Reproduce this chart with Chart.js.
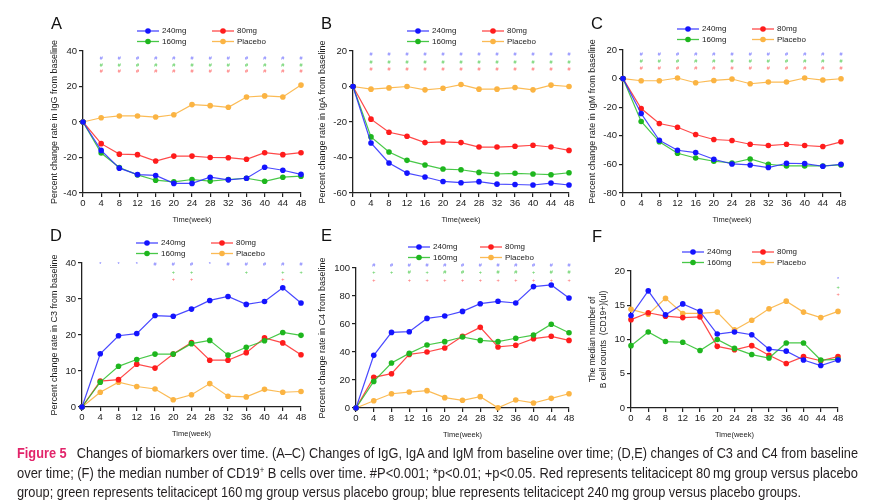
<!DOCTYPE html>
<html><head><meta charset="utf-8">
<script src="https://cdn.jsdelivr.net/npm/chart.js@4.4.1/dist/chart.umd.min.js"></script>
<style>
html,body{margin:0;padding:0;background:#fff;width:873px;height:501px;overflow:hidden;}
canvas.panel{position:absolute;left:0;top:0;}
.lbl{position:absolute;font-family:'Liberation Sans',Arial,sans-serif;font-size:16.5px;color:#111;line-height:1;}
.cap{position:absolute;left:17px;font-family:'Liberation Sans Narrow','Arial Narrow','Liberation Sans',sans-serif;font-size:15px;line-height:19px;color:#231f20;white-space:nowrap;transform-origin:0 0;}
.cap .fig{color:#e2246a;font-weight:bold;}
.cap sup{font-size:9px;vertical-align:5px;line-height:0;}
</style></head><body>
<canvas class="panel" id="cA" width="873" height="501"></canvas>
<canvas class="panel" id="cB" width="873" height="501"></canvas>
<canvas class="panel" id="cC" width="873" height="501"></canvas>
<canvas class="panel" id="cD" width="873" height="501"></canvas>
<canvas class="panel" id="cE" width="873" height="501"></canvas>
<canvas class="panel" id="cF" width="873" height="501"></canvas>
<div class="lbl" style="left:51px;top:15px">A</div>
<div class="lbl" style="left:321px;top:15px">B</div>
<div class="lbl" style="left:591px;top:15px">C</div>
<div class="lbl" style="left:50px;top:227px">D</div>
<div class="lbl" style="left:321px;top:227px">E</div>
<div class="lbl" style="left:592px;top:228px">F</div>
<div class="cap" id="cap1" style="top:443px"><span class="fig">Figure 5</span>&ensp; Changes of biomarkers over time. (A–C) Changes of IgG, IgA and IgM from baseline over time; (D,E) changes of C3 and C4 from baseline</div>
<div class="cap" id="cap2" style="top:462.5px">over time; (F) the median number of CD19<sup>+</sup> B cells over time. #P&lt;0.001; *p&lt;0.01; +p&lt;0.05. Red represents telitacicept 80&#8201;mg group versus placebo</div>
<div class="cap" id="cap3" style="top:482px">group; green represents telitacicept 160&#8201;mg group versus placebo group; blue represents telitacicept 240&#8201;mg group versus placebo groups.</div>
<script>
// ---- data ----
const weeks = [0,4,8,12,16,20,24,28,32,36,40,44,48];
const seriesNames = ['240mg','160mg','80mg','Placebo'];

// A: IgG
const igg240 = [0,-16,-26,-29.6,-30.1,-34.6,-34.6,-31.1,-32.6,-31.7,-25.5,-27.2,-29.5];
const igg160 = [0,-17.5,-25.6,-29.8,-32.8,-33.7,-32.4,-33.3,-32.4,-31.7,-33.4,-31.1,-30.5];
const igg80  = [0,-12.2,-18.1,-18.4,-22.0,-19.2,-19.2,-20,-20.1,-21.0,-17.3,-18.4,-17.3];
const iggPbo = [0,2.4,3.4,3.4,2.8,4.1,9.8,9.2,8.3,14.1,14.7,14.1,20.8];
// B: IgA
const iga240 = [0,-31.8,-43.1,-48.8,-51,-53.5,-54.2,-53.6,-55,-55.2,-55.5,-54.4,-55.5];
const iga160 = [0,-28.4,-36.9,-41.6,-44.2,-46.5,-46.9,-48.4,-49.3,-48.9,-49.3,-49.7,-48.6];
const iga80  = [0,-18.4,-25.8,-28,-31.6,-31.2,-31.6,-34.1,-34.1,-33.7,-33.1,-34.1,-36];
const igaPbo = [0,-1.5,-0.8,0,-1.9,-1,1.1,-1.5,-1.5,-0.6,-1.9,0.8,0];
// C: IgM
const igm240 = [0,-24.4,-43.1,-50.1,-51.7,-56.4,-59.7,-60.4,-62.2,-59.2,-59.4,-61.3,-59.9];
const igm160 = [0,-30,-44.2,-52.2,-55.5,-57.8,-59,-56.2,-59.9,-61.1,-61.1,-61.1,-60.4];
const igm80  = [0,-20.9,-31.4,-34,-39.1,-42.6,-43.3,-45.9,-46.8,-45.9,-46.8,-47.5,-44.2];
const igmPbo = [0,-1.5,-1.5,0.4,-2.9,-1.3,-0.3,-3.6,-2.4,-2.4,0.4,-1,-0.1];
// D: C3
const c3_240 = [0,14.8,19.8,20.4,25.4,25.2,27.2,29.6,30.7,28.5,29.3,33.1,28.9];
const c3_160 = [0,6.9,11.3,13.2,14.7,14.7,17.6,18.5,14.4,16.6,18.4,20.7,19.9];
const c3_80  = [0,7.2,7.6,11.9,10.8,14.7,17.9,13,13,15.1,19.2,17.8,14.5];
const c3Pbo  = [0,4.1,6.9,5.7,5,2,3.4,6.5,3,2.8,4.9,4.1,4.3];
// E: C4
const c4_240 = [0,37.6,54,54.5,64,65.7,69,74.5,76.2,75,86.7,87.9,78.6];
const c4_160 = [0,19,32.1,39,45,47.4,50.7,48.3,47.4,49.8,52.1,59.8,53.8];
const c4_80  = [0,21.9,24.5,38.3,40,42.9,51.2,57.6,43.6,44.8,49.5,51.2,48.3];
const c4Pbo  = [0,5.2,10.2,11.4,12.4,7.4,5.5,8.1,0.2,5.7,3.6,6.9,10.2];
// F: CD19+ B cells
const b240 = [13.5,17.1,13.6,15.2,14.1,10.8,11.1,10.7,8.6,8.3,7,6.2,7];
const b160 = [9.1,11.1,9.7,9.6,8.4,10,8.7,7.8,7.3,9.5,9.5,7,7.1];
const b80  = [12.9,13.9,13.4,13.2,13.3,9,8.5,9.1,7.7,6.5,7.5,6.9,7.5];
const bPbo = [14.4,13.7,16,13.8,13.8,14,11.4,12.8,14.5,15.6,14,13.2,14.1];

// significance marks for weeks 4..48 (one char per week, space = none): rows 240mg, 160mg, 80mg
const sigA = ['############','############','############'];
const sigB = ['############','############','############'];
const sigC = ['############','############','############'];
const sigD = ['***###*#####','    ++  + ++','    ++    + '];
const sigE = ['############','++#+##+##+##','+ ++++++++++'];
const sigF = ['           *','           +','           +'];
const sigYA = [35.7,31.9,28.2];
const sigYB = [18.1,13.7,9.8];
const sigYC = [17,11.8,6.9];
const sigYD = [39.5,37.5,35.5];
const sigYE = [101.9,96.9,91.4];
const sigYF = [18.8,17.6,16.5];

// y-axis ranges [min, max, step]
const yA = [-40,40,20], yB = [-60,20,20], yC = [-80,20,20], yD = [0,40,10], yE = [0,100,20], yF = [0,20,5];

// ---- styling ----
const FONT = "'Liberation Sans',Arial,sans-serif";
const pointCol = ['#1414ff','#1eb61e','#ff1c1c','#fbb443'];
const lineCol  = ['rgba(40,40,255,0.85)','rgba(40,190,40,0.85)','rgba(255,40,40,0.85)','rgba(251,180,67,0.9)'];
const sigCol   = ['#7474ff','#55cc55','#ff6868'];
const legendPos = [[0,0],[0,1],[1,0],[1,1]];
const AX = '#222';

const sigPlugin = {
  id:'sigMarks',
  afterDatasetsDraw(chart, args, opts){
    const {ctx} = chart, xs = chart.scales.x, ys = chart.scales.y;
    ctx.save();
    ctx.font = `5.5px ${FONT}`;
    ctx.textAlign = 'center'; ctx.textBaseline = 'middle';
    opts.rows.forEach((row, i) => {
      ctx.fillStyle = sigCol[i];
      for (let j = 0; j < row.length; j++) {
        const ch = row[j];
        if (ch === ' ') continue;
        ctx.fillText(ch, xs.getPixelForValue(weeks[j+1]), ys.getPixelForValue(opts.ys[i]));
      }
    });
    ctx.restore();
  }
};

const legendPlugin = {
  id:'miniLegend',
  afterDraw(chart, args, opts){
    const {ctx, chartArea:a} = chart;
    ctx.save();
    chart.data.datasets.forEach((ds, i) => {
      const [col,row] = legendPos[i];
      const x0 = a.left + opts.dx + col*opts.colGap;
      const y = a.top + opts.dy + row*10.5;
      ctx.strokeStyle = lineCol[i]; ctx.lineWidth = 1.3;
      ctx.beginPath(); ctx.moveTo(x0,y); ctx.lineTo(x0+22,y); ctx.stroke();
      ctx.fillStyle = pointCol[i];
      ctx.beginPath(); ctx.arc(x0+11,y,2.8,0,Math.PI*2); ctx.fill();
      ctx.fillStyle = '#222'; ctx.font = `8px ${FONT}`;
      ctx.textBaseline = 'middle'; ctx.textAlign = 'left';
      ctx.fillText(ds.label, x0+25, y);
    });
    ctx.restore();
  }
};

function panel(id, series, yr, area, yW, yTitle, yTitleSize, sigRows, sigYs, leg){
  const xH = 31.5;
  new Chart(document.getElementById(id), {
    type:'line',
    data:{datasets: series.map((vals, i) => ({
      label: seriesNames[i],
      data: weeks.map((w, k) => ({x:w, y:vals[k]})),
      borderColor: lineCol[i], backgroundColor: pointCol[i],
      pointBackgroundColor: pointCol[i], pointBorderWidth:0, pointRadius:2.8,
      borderWidth:1.2, tension:0, clip:false
    }))},
    options:{
      responsive:false, animation:false, events:[],
      layout:{padding:{left:area[0]-yW, top:area[1], right:873-area[2], bottom:501-area[3]-xH}},
      plugins:{legend:{display:false}, tooltip:{enabled:false},
        sigMarks:{rows:sigRows, ys:sigYs}, miniLegend:leg},
      scales:{
        x:{type:'linear', min:0, max:48,
          afterFit:s=>{s.height = xH;},
          grid:{display:true, drawOnChartArea:false, drawTicks:true, tickLength:4, color:AX, lineWidth:1.2},
          border:{display:true, color:AX, width:1.3},
          ticks:{stepSize:4, autoSkip:false, maxRotation:0, padding:1, color:'#222', font:{family:FONT, size:9.5}},
          title:{display:true, text:'Time(week)', color:'#222', padding:0, font:{family:FONT, size:7.5}}
        },
        y:{type:'linear', min:yr[0], max:yr[1],
          afterFit:s=>{s.width = yW;},
          grid:{display:true, drawOnChartArea:false, drawTicks:true, tickLength:4, color:AX, lineWidth:1.2},
          border:{display:true, color:AX, width:1.3},
          ticks:{stepSize:yr[2], padding:2, color:'#222', font:{family:FONT, size:9.5}},
          title:{display:true, text:yTitle, color:'#222', padding:0, font:{family:FONT, size:yTitleSize}}
        }
      }
    },
    plugins:[sigPlugin, legendPlugin]
  });
}

const legStd = {dx:54, colGap:75, dy:-20};
panel('cA', [igg240,igg160,igg80,iggPbo], yA, [83,51,301,193], 33.4, 'Percent change rate in IgG from baseline', 9, sigA, sigYA, legStd);
panel('cB', [iga240,iga160,iga80,igaPbo], yB, [353,51,569,193], 35.4, 'Percent change rate in IgA from baseline', 9, sigB, sigYB, legStd);
panel('cC', [igm240,igm160,igm80,igmPbo], yC, [623,50,841,193], 35.4, 'Percent change rate in IgM from baseline', 9, sigC, sigYC, {dx:54, colGap:75, dy:-21});
panel('cD', [c3_240,c3_160,c3_80,c3Pbo], yD, [82,263,301,407], 32.4, 'Percent change rate in C3 from baseline', 9, sigD, sigYD, legStd);
panel('cE', [c4_240,c4_160,c4_80,c4Pbo], yE, [356,268,569,408], 38.4, 'Percent change rate in C4 from baseline', 9, sigE, sigYE, {dx:52, colGap:72, dy:-21});
panel('cF', [b240,b160,b80,bPbo], yF, [631,271,838,408], 43, ['The median number of','B cell counts  (CD19+)(ul)'], 8.5, sigF, sigYF, {dx:51, colGap:70, dy:-19});

// fit caption lines to reference widths
[['cap1',841],['cap2',841],['cap3',784]].forEach(([id,w])=>{
  const el = document.getElementById(id);
  const m = el.getBoundingClientRect().width;
  if (m > 0) el.style.transform = `scaleX(${w/m})`;
});
</script>
</body></html>
